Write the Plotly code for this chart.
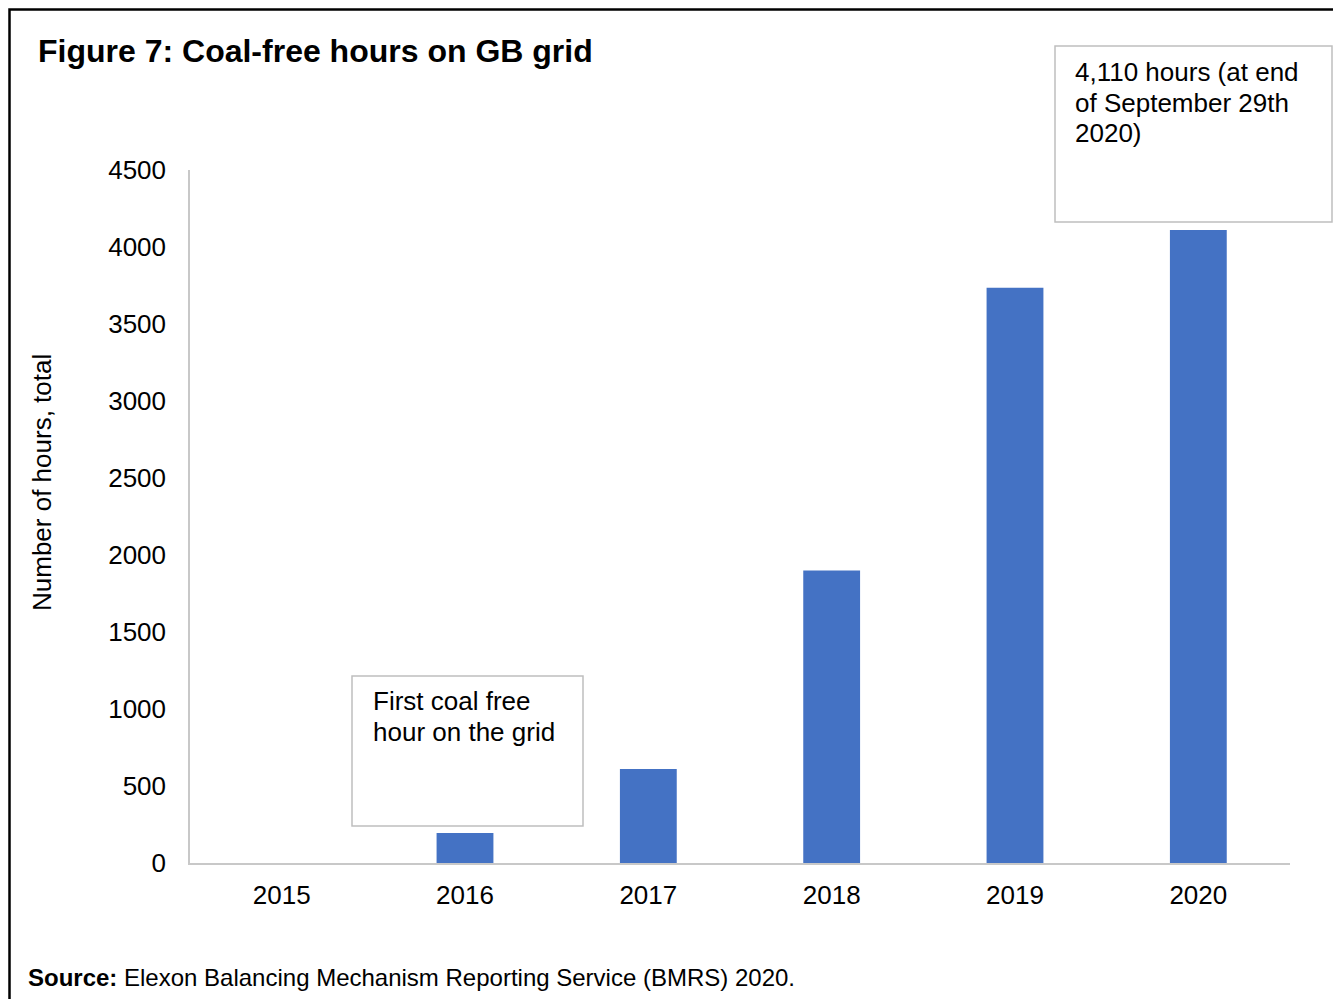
import plotly.graph_objects as go

years = ["2015", "2016", "2017", "2018", "2019", "2020"]
coal_free_hours = [0, 195, 610, 1900, 3735, 4110]
y_ticks = [0, 500, 1000, 1500, 2000, 2500, 3000, 3500, 4000, 4500]

title_text = "<b>Figure 7: Coal-free hours on GB grid</b>"
y_title = "Number of hours, total"
note_2016 = ["First coal free", "hour on the grid"]
note_2020 = ["4,110 hours (at end", "of September 29th", "2020)"]
source_text = "<b>Source:</b> Elexon Balancing Mechanism Reporting Service (BMRS) 2020."

# the page body has an 8px margin, so the figure is a bit smaller than the window
OFF = 8
W, H = 1341 - OFF, 999 - OFF
# plot area in screen pixels
L, R, T, B = 190, 1290, 170, 863


def px(x):
    return (x - L) / (R - L)


def py(y):
    return (B - y) / (B - T)


font = "Liberation Sans, Arial, sans-serif"

fig = go.Figure()
fig.add_trace(go.Bar(x=years, y=coal_free_hours, marker_color="#4472C4",
                     marker_line_width=0, width=0.31))

fig.update_layout(
    width=W, height=H,
    margin=dict(l=L - OFF, r=W - (R - OFF), t=T - OFF, b=H - (B - OFF), pad=0),
    paper_bgcolor="white", plot_bgcolor="white",
    showlegend=False,
    font=dict(family=font, size=26, color="black"),
)
fig.update_xaxes(showline=True, linecolor="#c8c8c8", linewidth=1.5,
                 showgrid=False, ticks="", ticklabelstandoff=8,
                 tickfont=dict(size=26))
fig.update_yaxes(range=[0, 4500], tickvals=y_ticks, showline=True,
                 linecolor="#c8c8c8", linewidth=1.5, showgrid=False,
                 zeroline=False, ticks="", ticklabelstandoff=17,
                 tickfont=dict(size=26))

# outer frame (only top and left visible in the original crop)
fig.add_shape(type="rect", xref="paper", yref="paper",
              x0=px(9.5), x1=px(1400), y0=py(1050), y1=py(9.5),
              line=dict(color="black", width=2.5), layer="below")

# annotation boxes
fig.add_shape(type="rect", xref="paper", yref="paper",
              x0=px(352), x1=px(583), y0=py(826), y1=py(676),
              line=dict(color="#bfbfbf", width=1.5), fillcolor="white")
fig.add_shape(type="rect", xref="paper", yref="paper",
              x0=px(1055), x1=px(1332), y0=py(222), y1=py(46),
              line=dict(color="#bfbfbf", width=1.5), fillcolor="white")

for i, line in enumerate(note_2016):
    fig.add_annotation(text=line, xref="paper", yref="paper",
                       x=px(371), y=py(701 + 31 * i), xanchor="left",
                       yanchor="middle", showarrow=False, font=dict(size=26))
for i, line in enumerate(note_2020):
    fig.add_annotation(text=line, xref="paper", yref="paper",
                       x=px(1073), y=py(72 + 30.5 * i), xanchor="left",
                       yanchor="middle", showarrow=False, font=dict(size=26))

fig.add_annotation(text=title_text, xref="paper", yref="paper",
                   x=px(36), y=py(51), xanchor="left", yanchor="middle",
                   showarrow=False, font=dict(size=32))
fig.add_annotation(text=y_title, xref="paper", yref="paper",
                   x=px(42), y=py(483), xanchor="center", yanchor="middle",
                   textangle=-90, showarrow=False, font=dict(size=26))
fig.add_annotation(text=source_text, xref="paper", yref="paper",
                   x=px(26), y=py(978), xanchor="left", yanchor="middle",
                   showarrow=False, font=dict(size=24))

fig.write_html("out.html")
